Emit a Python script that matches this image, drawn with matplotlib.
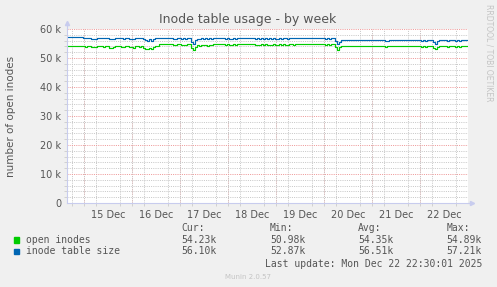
import numpy as np
import matplotlib
matplotlib.use("Agg")
import matplotlib.pyplot as plt
from matplotlib.patches import Rectangle
from matplotlib.ticker import FixedLocator, MultipleLocator

# hourly samples, hour 0 = 15 Dec 00:00 (values in thousands)
hours = np.arange(-8, 193)

table_size = [
    57.2, 57.2, 57.2, 57.2, 57.2, 57.2, 57.2, 57.2,
    56.9, 56.75, 56.9, 56.85, 56.6, 56.7, 56.65, 56.9, 56.85, 56.9,
    56.8, 56.9, 56.85, 56.55, 56.5, 56.7, 56.9, 56.85, 56.9, 56.8,
    56.6, 56.85, 56.9, 56.6, 56.7, 56.55, 56.85, 56.9, 56.8, 56.9,
    56.5, 56.2, 55.9, 56.4, 56.0, 56.6, 56.9, 56.9, 56.9, 56.9,
    56.9, 56.9, 56.9, 56.9, 56.85, 56.6, 56.7, 56.9, 56.9, 56.6,
    56.75, 56.6, 56.9, 56.85, 55.6, 55.0, 56.3, 56.7, 56.5, 56.75,
    56.6, 56.8, 56.55, 56.8, 56.7, 56.9, 56.9, 56.9, 56.9, 56.9,
    56.85, 56.6, 56.9, 56.7, 56.6, 56.85, 56.65, 56.9, 56.9, 56.9,
    56.9, 56.9, 56.9, 56.9, 56.9, 56.9, 56.6, 56.8, 56.65, 56.9,
    56.7, 56.9, 56.6, 56.8, 56.55, 56.9, 56.7, 56.6, 56.85, 56.7,
    56.9, 56.75, 56.6, 56.85, 56.9, 56.8, 56.9, 56.9, 56.9, 56.9,
    56.9, 56.9, 56.9, 56.9, 56.9, 56.9, 56.9, 56.9, 56.9, 56.9,
    56.9, 56.6, 56.85, 56.6, 56.9, 56.9, 55.8, 54.7, 55.6,
    56.15, 56.15, 56.15, 56.15, 56.15, 56.15, 56.15, 56.15, 56.15, 56.15,
    56.15, 56.15, 56.15, 56.15, 56.15, 56.15, 56.15, 56.15, 56.15, 56.15,
    56.15, 56.15, 55.7, 56.0, 56.15, 56.15, 56.15, 56.15, 56.15, 56.15,
    56.15, 56.15, 56.15, 56.15, 56.15, 56.15, 56.15, 56.15, 56.15, 56.15,
    55.8, 56.15, 55.85, 56.15, 56.15, 56.15, 55.4, 55.0, 55.7, 56.15,
    56.15, 56.15, 56.15, 55.8, 56.15, 56.15, 56.15, 55.75, 56.1, 55.8,
    56.15, 56.15, 56.1, 56.1,
]

open_inodes = [
    54.2, 54.2, 54.2, 54.2, 54.2, 54.2, 54.2, 54.2,
    54.1, 53.9, 54.1, 54.05, 53.7, 53.85, 53.8, 54.1, 54.05, 54.1,
    53.95, 54.1, 54.0, 53.6, 53.5, 53.85, 54.1, 54.0, 54.1, 53.95,
    53.7, 54.0, 54.1, 53.7, 53.85, 53.6, 54.0, 54.1, 53.95, 54.1,
    53.5, 53.2, 53.0, 53.5, 53.2, 53.8, 54.1, 54.1, 54.75, 54.75,
    54.75, 54.75, 54.75, 54.75, 54.7, 54.4, 54.55, 54.75, 54.75, 54.4,
    54.6, 54.4, 54.75, 54.7, 53.3, 52.7, 53.9, 54.5, 54.2, 54.55,
    54.35, 54.6, 54.3, 54.6, 54.5, 54.75, 54.75, 54.75, 54.75, 54.75,
    54.7, 54.4, 54.75, 54.5, 54.4, 54.7, 54.45, 54.75, 54.75, 54.75,
    54.75, 54.75, 54.75, 54.75, 54.75, 54.75, 54.4, 54.6, 54.45, 54.75,
    54.5, 54.75, 54.4, 54.6, 54.35, 54.75, 54.5, 54.4, 54.7, 54.5,
    54.75, 54.55, 54.4, 54.7, 54.75, 54.65, 54.75, 54.75, 54.75, 54.75,
    54.75, 54.75, 54.75, 54.75, 54.75, 54.75, 54.75, 54.75, 54.75, 54.75,
    54.75, 54.4, 54.7, 54.4, 54.75, 54.75, 53.8, 52.9, 53.7,
    54.25, 54.25, 54.25, 54.25, 54.25, 54.25, 54.25, 54.25, 54.25, 54.25,
    54.25, 54.25, 54.25, 54.25, 54.25, 54.25, 54.25, 54.25, 54.25, 54.25,
    54.25, 54.25, 53.8, 54.1, 54.25, 54.25, 54.25, 54.25, 54.25, 54.25,
    54.25, 54.25, 54.25, 54.25, 54.25, 54.25, 54.25, 54.25, 54.25, 54.25,
    53.9, 54.25, 53.95, 54.25, 54.25, 54.25, 53.6, 53.2, 53.8, 54.25,
    54.25, 54.25, 54.25, 53.9, 54.25, 54.25, 54.25, 53.85, 54.2, 53.9,
    54.25, 54.25, 54.23, 54.23,
]

day_labels = ['15 Dec', '16 Dec', '17 Dec', '18 Dec', '19 Dec', '20 Dec', '21 Dec', '22 Dec']
y_ticks = [0, 10, 20, 30, 40, 50, 60]
y_labels = ['0', '10 k', '20 k', '30 k', '40 k', '50 k', '60 k']

legend_names = ['open inodes', 'inode table size']
legend_colors = ['#00CC00', '#0066B3']
stat_heads = ['Cur:', 'Min:', 'Avg:', 'Max:']
open_stats = ['54.23k', '50.98k', '54.35k', '54.89k']
size_stats = ['56.10k', '52.87k', '56.51k', '57.21k']

W, H = 497, 287
BG = '#F0F0F0'
TXT = '#555555'
AXC = '#C8CCEE'


def fx(x):
    return x / W


def fy(y):
    return 1 - y / H


fig = plt.figure(figsize=(W / 100, H / 100), dpi=100, facecolor=BG)
ax = fig.add_axes([fx(67), fy(203), 400.7 / W, 174 / H])
ax.set_facecolor('white')

ax.plot(hours, open_inodes, color=legend_colors[0], lw=0.85, drawstyle='steps-mid')
ax.plot(hours, table_size, color=legend_colors[1], lw=0.85, drawstyle='steps-mid')

ax.set_xlim(-8.65, 191.7)
ax.set_ylim(0, 60)

# x axis: labels at noon, red lines at midnight, grey every 6h
ax.xaxis.set_major_locator(FixedLocator(np.arange(12, 181, 24)))
ax.set_xticklabels(day_labels)
ax.xaxis.set_minor_locator(MultipleLocator(6))
ax.yaxis.set_major_locator(FixedLocator(y_ticks))
ax.set_yticklabels(y_labels)
ax.yaxis.set_minor_locator(MultipleLocator(2))

dots = (0, (1, 1.2))
ax.grid(which='minor', color='#C8C8C8', linestyle=dots, lw=0.72)
ax.grid(which='major', axis='y', color='#EE9999', linestyle=dots, lw=0.72)
for d in range(0, 193, 24):
    ax.axvline(d, color='#EE9999', linestyle=dots, lw=0.72, zorder=0.5)
ax.set_axisbelow(True)

ax.tick_params(axis='both', which='major', labelsize=7, colors=TXT, length=0, pad=4)
ax.tick_params(axis='both', which='minor', length=2, color='#CCCCCC')
ax.tick_params(axis='x', which='major', pad=5)

for s in ['top', 'right']:
    ax.spines[s].set_visible(False)
for s in ['left', 'bottom']:
    ax.spines[s].set_color(AXC)
    ax.spines[s].set_linewidth(0.8)

# axis arrows
ax.plot([0, 0], [1, 1.03], color=AXC, lw=0.8, transform=ax.transAxes, clip_on=False)
ax.plot([0], [1.035], marker='^', ms=3, color=AXC, transform=ax.transAxes, clip_on=False)
ax.plot([1, 1.008], [0, 0], color=AXC, lw=0.8, transform=ax.transAxes, clip_on=False)
ax.plot([1.01], [0], marker='>', ms=3, color=AXC, transform=ax.transAxes, clip_on=False)

fig.text(fx(248), fy(19), 'Inode table usage - by week', ha='center', va='center',
         fontsize=9, color=TXT)
fig.text(fx(11), fy(116), 'number of open inodes', ha='center', va='center',
         rotation=90, fontsize=7.5, color=TXT)
fig.text(fx(488.5), fy(53), 'RRDTOOL / TOBI OETIKER', ha='center', va='center',
         rotation=270, fontsize=5.5, color='#C4C4C4')

mono = 'DejaVu Sans Mono'
cols = [181.7, 270, 358, 446.7]
for x, h in zip(cols, stat_heads):
    fig.text(fx(x), fy(228.3), h, family=mono, fontsize=7, color=TXT, va='center')

rows = [(240, open_stats), (251.5, size_stats)]
for (y, stats), name, c in zip(rows, legend_names, legend_colors):
    fig.patches.append(Rectangle((fx(14), fy(y + 2.7)), 5.4 / W, 5.4 / H,
                                 transform=fig.transFigure, color=c))
    fig.text(fx(26.5), fy(y), name, family=mono, fontsize=7, color=TXT, va='center')
    for x, v in zip(cols, stats):
        fig.text(fx(x), fy(y), v, family=mono, fontsize=7, color=TXT, va='center')

fig.text(fx(482.7), fy(264), 'Last update: Mon Dec 22 22:30:01 2025', family=mono,
         fontsize=7, color=TXT, ha='right', va='center')
fig.text(fx(248), fy(276.7), 'Munin 2.0.57', fontsize=5, color='#C4C4C4',
         ha='center', va='center')

fig.savefig('out.png', dpi=100, facecolor=BG)
